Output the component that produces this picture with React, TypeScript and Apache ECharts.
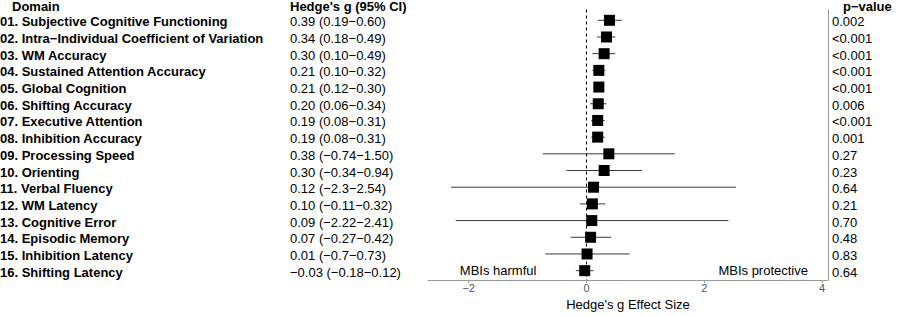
import React, { useEffect, useRef } from "react";
import * as echarts from "echarts";

const domains = [
  "01. Subjective Cognitive Functioning",
  "02. Intra\u2212Individual Coefficient of Variation",
  "03. WM Accuracy",
  "04. Sustained Attention Accuracy",
  "05. Global Cognition",
  "06. Shifting Accuracy",
  "07. Executive Attention",
  "08. Inhibition Accuracy",
  "09. Processing Speed",
  "10. Orienting",
  "11. Verbal Fluency",
  "12. WM Latency",
  "13. Cognitive Error",
  "14. Episodic Memory",
  "15. Inhibition Latency",
  "16. Shifting Latency",
];
const estimates = [0.39, 0.34, 0.3, 0.21, 0.21, 0.2, 0.19, 0.19, 0.38, 0.3, 0.12, 0.1, 0.09, 0.07, 0.01, -0.03];
const lowerCI = [0.19, 0.18, 0.1, 0.1, 0.12, 0.06, 0.08, 0.08, -0.74, -0.34, -2.3, -0.11, -2.22, -0.27, -0.7, -0.18];
const upperCI = [0.6, 0.49, 0.49, 0.32, 0.3, 0.34, 0.31, 0.31, 1.5, 0.94, 2.54, 0.32, 2.41, 0.42, 0.73, 0.12];
const ciLabels = [
  "0.39 (0.19\u22120.60)",
  "0.34 (0.18\u22120.49)",
  "0.30 (0.10\u22120.49)",
  "0.21 (0.10\u22120.32)",
  "0.21 (0.12\u22120.30)",
  "0.20 (0.06\u22120.34)",
  "0.19 (0.08\u22120.31)",
  "0.19 (0.08\u22120.31)",
  "0.38 (\u22120.74\u22121.50)",
  "0.30 (\u22120.34\u22120.94)",
  "0.12 (\u22122.3\u22122.54)",
  "0.10 (\u22120.11\u22120.32)",
  "0.09 (\u22122.22\u22122.41)",
  "0.07 (\u22120.27\u22120.42)",
  "0.01 (\u22120.7\u22120.73)",
  "\u22120.03 (\u22120.18\u22120.12)",
];
const pValues = [
  "0.002", "<0.001", "<0.001", "<0.001", "<0.001", "0.006", "<0.001", "0.001",
  "0.27", "0.23", "0.64", "0.21", "0.70", "0.48", "0.83", "0.64",
];
const xTicks = [-2, 0, 2, 4];
const headers = ["Domain", "Hedge's g (95% CI)", "p\u2212value"];
const annotationTexts = ["MBIs harmful", "MBIs protective"];
const annotationX = [-1.5, 3];
const annotationRow = 16;
const xTitle = "Hedge's g Effect Size";

const FONT = "'Liberation Sans', Arial, Helvetica, sans-serif";
const TEXT_DY = 1.5;

export default function App() {
  const ref = useRef<HTMLDivElement>(null);
  useEffect(() => {
    if (!ref.current) return;
    const chart = echarts.init(ref.current, undefined, { renderer: "svg" });
    const rows = domains.map((_, i) => i + 1);
    const fmt = (v: number) => (v < 0 ? "\u2212" + Math.abs(v) : String(v));
    const headerStyle = (text: string) => ({
      text,
      font: `bold 13px ${FONT}`,
      fill: "#000",
      textVerticalAlign: "middle",
      verticalAlign: "middle",
    });
    const option: any = {
      animation: false,
      textStyle: { fontFamily: FONT },
      grid: { left: 428, right: 72, top: 9.5, bottom: 31 },
      xAxis: {
        type: "value",
        min: -2.69,
        max: 4.1,
        splitLine: { show: false },
        axisLine: { show: true, onZero: false, lineStyle: { color: "#9a9a9a", width: 1 } },
        axisTick: { show: true, customValues: xTicks, length: 3, lineStyle: { color: "#9a9a9a" } },
        axisLabel: {
          customValues: xTicks,
          formatter: fmt,
          color: "#555",
          fontSize: 11,
          margin: 2,
          fontFamily: FONT,
        },
        name: xTitle,
        nameLocation: "middle",
        nameGap: 18,
        nameTextStyle: { color: "#000", fontSize: 13, fontFamily: FONT },
      },
      yAxis: {
        type: "value",
        inverse: true,
        min: 0.353,
        max: 16.56,
        position: "right",
        splitLine: { show: false },
        axisLine: { show: true, onZero: false, lineStyle: { color: "#9a9a9a", width: 1 } },
        axisTick: { show: false },
        axisLabel: { show: false },
      },
      graphic: [
        { type: "text", x: 12, y: 6, style: headerStyle(headers[0]) },
        { type: "text", x: 290, y: 6, style: headerStyle(headers[1]) },
        { type: "text", x: 843, y: 6, style: headerStyle(headers[2]) },
      ],
      series: [
        {
          type: "custom",
          clip: false,
          data: rows.map((r, i) => [lowerCI[i], r, upperCI[i]]),
          encode: { x: [0, 2], y: 1 },
          renderItem: (params: any, api: any) => {
            const p1 = api.coord([api.value(0), api.value(1)]);
            const p2 = api.coord([api.value(2), api.value(1)]);
            return {
              type: "line",
              shape: { x1: p1[0], y1: p1[1], x2: p2[0], y2: p2[1] },
              style: { stroke: "#3a3a3a", lineWidth: 1 },
            };
          },
          z: 2,
        },
        {
          type: "scatter",
          symbol: "rect",
          symbolSize: 11,
          itemStyle: { color: "#000", opacity: 1 },
          data: rows.map((r, i) => [estimates[i], r]),
          z: 3,
          markLine: {
            silent: true,
            symbol: "none",
            label: { show: false },
            lineStyle: { color: "#000", type: [3, 3], width: 1 },
            data: [{ xAxis: 0 }],
          },
        },
        {
          type: "custom",
          clip: false,
          data: rows.map((r, i) => [0, r, i]),
          encode: { x: 0, y: 1 },
          renderItem: (params: any, api: any) => {
            const i = api.value(2);
            const y = api.coord([0, api.value(1)])[1] + TEXT_DY;
            return {
              type: "group",
              children: [
                { type: "text", x: 0, y, style: { text: domains[i], font: `bold 13px ${FONT}`, fill: "#000", textVerticalAlign: "middle", verticalAlign: "middle" } },
                { type: "text", x: 290, y, style: { text: ciLabels[i], font: `13px ${FONT}`, fill: "#000", textVerticalAlign: "middle", verticalAlign: "middle" } },
                { type: "text", x: 832, y, style: { text: pValues[i], font: `13px ${FONT}`, fill: "#000", textVerticalAlign: "middle", verticalAlign: "middle" } },
              ],
            };
          },
        },
        {
          type: "custom",
          clip: false,
          data: annotationX.map((x, i) => [x, annotationRow, i]),
          encode: { x: 0, y: 1 },
          renderItem: (params: any, api: any) => {
            const p = api.coord([api.value(0), api.value(1)]);
            return {
              type: "text",
              x: p[0],
              y: p[1],
              style: {
                text: annotationTexts[api.value(2)],
                font: `13px ${FONT}`,
                fill: "#000",
                textAlign: "center",
                align: "center",
                textVerticalAlign: "middle",
                verticalAlign: "middle",
              },
            };
          },
        },
      ],
    };
    chart.setOption(option);
    return () => chart.dispose();
  }, []);
  return (
    <div
      ref={ref}
      style={{ position: "fixed", left: 0, top: 0, width: 900, height: 316, background: "#fff" }}
    />
  );
}
